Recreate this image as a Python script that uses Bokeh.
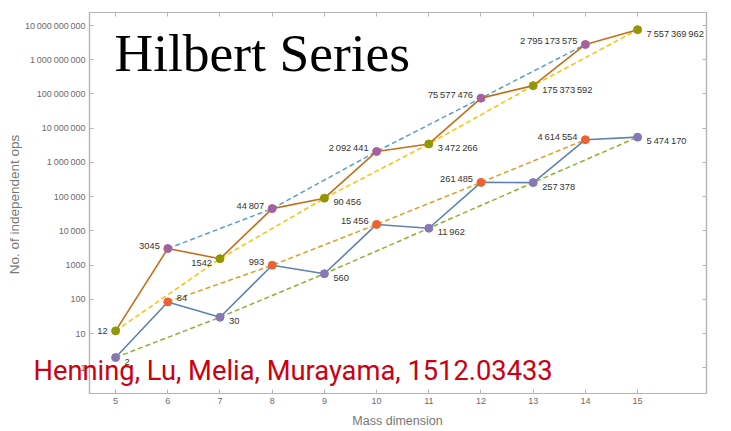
from bokeh.plotting import figure
from bokeh.layouts import column
from bokeh.models import (ColumnDataSource, FixedTicker, LinearAxis, LogAxis,
                          Label, Range1d)
from bokeh.core.properties import value
from bokeh.embed import file_html
from bokeh.resources import INLINE

# Number of independent operators per mass dimension
mass = [5, 6, 7, 8, 9, 10, 11, 12, 13, 14, 15]
ops_upper = [12, 3045, 1542, 44807, 90456, 2092441, 3472266, 75577476,
             175373592, 2795173575, 7557369962]
ops_lower = [2, 84, 30, 993, 560, 15456, 11962, 261485, 257378, 4614554,
             5474170]

x_ticks = [5, 6, 7, 8, 9, 10, 11, 12, 13, 14, 15]
y_ticks = [1, 10, 100, 1000, 10**4, 10**5, 10**6, 10**7, 10**8, 10**9, 10**10]
y_tick_labels = ["1", "10", "100", "1000", "10\u2009000", "100\u2009000",
                 "1\u2009000\u2009000", "10\u2009000\u2009000",
                 "100\u2009000\u2009000", "1\u2009000\u2009000\u2009000",
                 "10\u2009000\u2009000\u2009000"]

# which side of each point its value label sits on
upper_sides = ["L", "L", "L", "L", "R", "L", "R", "L", "R", "L", "R"]
lower_sides = ["R", "R", "R", "L", "R", "L", "R", "L", "R", "L", "R"]

# Mathematica-style palette
BROWN = "#C56E1A"
BLUE = "#5E81B5"
PURPLE_A = "#A5609D"
OLIVE = "#929600"
ORANGE_PT = "#EB6235"
PURPLE_B = "#8778B3"
DASH_SKY = "#5D9EC7"
DASH_YELLOW = "#FFBF00"
DASH_ORANGE = "#E19C24"
DASH_GREEN = "#8FB032"
FRAME = "#b3b3b3"
TICK_TEXT = "#6b6b6b"
W, H = 731, 431


def fmt(n):
    s = str(n)
    if n < 10000:
        return s
    groups = []
    while s:
        groups.insert(0, s[-3:])
        s = s[:-3]
    return "\u2009".join(groups)


p = figure(width=W, height=H, y_axis_type="log",
           x_range=Range1d(4.5, 16.32), y_range=Range1d(0.178, 2.4e10),
           output_backend="svg", toolbar_location=None,
           min_border_left=89, min_border_right=25,
           min_border_top=12, min_border_bottom=38)
p.frame_align = False
p.grid.visible = False
p.outline_line_color = FRAME
p.outline_line_width = 1.2
p.background_fill_color = "white"
p.border_fill_color = "white"

xt = FixedTicker(ticks=x_ticks, minor_ticks=[])
yt = FixedTicker(ticks=y_ticks, minor_ticks=[])


def style_axis(ax, ticker, labels=True):
    ax.ticker = ticker
    ax.axis_line_color = FRAME
    ax.axis_line_width = 1.2
    ax.major_tick_line_color = FRAME
    ax.major_tick_in = 4
    ax.major_tick_out = 0
    ax.minor_tick_line_color = None
    ax.major_label_text_font = "Liberation Sans"
    ax.major_label_text_font_size = "9px"
    ax.major_label_text_color = TICK_TEXT
    ax.major_label_standoff = 4
    if not labels:
        # mirrored frame ticks only
        ax.major_label_overrides = {t: "" for t in ticker.ticks}
        ax.major_label_standoff = 0


style_axis(p.xaxis[0], xt)
style_axis(p.yaxis[0], yt)
p.yaxis[0].major_label_overrides = {t: l for t, l in zip(y_ticks, y_tick_labels)}

top = LinearAxis()
style_axis(top, xt, labels=False)
p.add_layout(top, "above")
right = LogAxis()
style_axis(right, yt, labels=False)
p.add_layout(right, "right")

# dashed guides through alternating points
p.line(mass[1::2], ops_upper[1::2], color=DASH_SKY, line_width=1.5, line_dash="5 3")
p.line(mass[0::2], ops_upper[0::2], color=DASH_YELLOW, line_width=1.5, line_dash="5 3")
p.line(mass[1::2], ops_lower[1::2], color=DASH_ORANGE, line_width=1.5, line_dash="5 3")
p.line(mass[0::2], ops_lower[0::2], color=DASH_GREEN, line_width=1.5, line_dash="5 3")

# solid series
p.line(mass, ops_upper, color=BROWN, line_width=1.6)
p.line(mass, ops_lower, color=BLUE, line_width=1.6)

p.scatter(mass[1::2], ops_upper[1::2], size=8, color=PURPLE_A)
p.scatter(mass[0::2], ops_upper[0::2], size=8, color=OLIVE)
p.scatter(mass[1::2], ops_lower[1::2], size=8, color=ORANGE_PT)
p.scatter(mass[0::2], ops_lower[0::2], size=8, color=PURPLE_B)


def label_source(xs, ys, sides, dy_over):
    align, xo, yo = [], [], []
    for i, s in enumerate(sides):
        if s == "L":
            align.append("right"); xo.append(-8); yo.append(-3)
        else:
            align.append("left"); xo.append(9); yo.append(4)
        if i in dy_over:
            yo[-1] = dy_over[i]
    return ColumnDataSource(dict(x=xs, y=ys, t=[fmt(v) for v in ys],
                                 align=align, xo=xo, yo=yo))


src_u = label_source(mass, ops_upper, upper_sides, {0: 0, 2: 4})
src_l = label_source(mass, ops_lower, lower_sides, {1: -4})
for src in (src_u, src_l):
    p.text("x", "y", text="t", source=src, text_align="align",
           text_baseline="middle", x_offset="xo", y_offset="yo",
           text_font=value("Liberation Sans"), text_font_size="9.3px",
           text_color="#333333")

# Transparent overlay spanning the whole canvas (1 data unit = 1 px),
# so free-standing texts are not clipped to the plot frame.
ov = figure(width=W, height=H, x_range=Range1d(0, W), y_range=Range1d(0, H),
            x_axis_type=None, y_axis_type=None, output_backend="svg",
            toolbar_location=None, min_border=0)
ov.frame_align = False
ov.outline_line_color = None
ov.background_fill_alpha = 0
ov.border_fill_alpha = 0
ov.margin = (-H, 0, 0, 0)

ov.add_layout(Label(x=114, y=H - 52, text="Hilbert Series",
                    text_font="Liberation Serif", text_font_size="53.5px",
                    text_color="black", text_baseline="alphabetic"))
ov.add_layout(Label(x=33, y=H - 370,
                    text="Henning, Lu, Melia, Murayama, 1512.03433",
                    text_font="Roboto", text_font_size="27.3px",
                    text_color="#cc0011", text_baseline="alphabetic"))
ov.add_layout(Label(x=397, y=H - 420, text="Mass dimension",
                    text_font="Liberation Sans", text_font_size="12.5px",
                    text_color="#777777", text_align="center",
                    text_baseline="middle"))
ov.add_layout(Label(x=14, y=H - 204, text="No. of independent ops",
                    text_font="Liberation Sans", text_font_size="13.5px",
                    text_color="#777777", text_align="center",
                    text_baseline="middle", angle=1.5708))

layout = column(p, ov, spacing=0)
open("out.html", "w").write(file_html(layout, INLINE))
